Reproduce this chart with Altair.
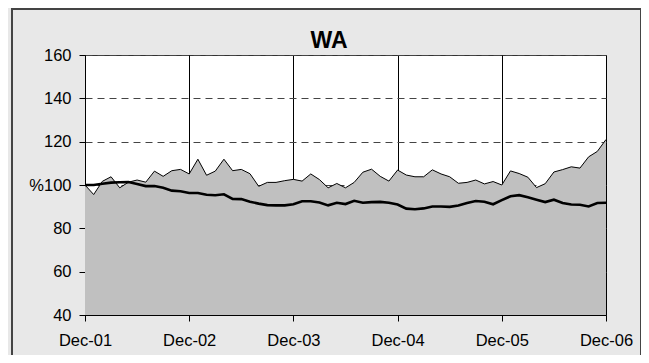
import altair as alt
import pandas as pd

# Monthly index, Dec-01 (=100) to Dec-06
chart_title = "WA"
tick_labels = ["Dec-01", "Dec-02", "Dec-03", "Dec-04", "Dec-05", "Dec-06"]

upper = [100.0, 95.6, 101.7, 103.8, 98.7, 101.3, 102.3, 101.3, 106.4, 104.0, 106.6, 107.2,
         105.1, 111.9, 104.5, 106.4, 111.9, 106.6, 107.2, 105.2, 99.4, 101.2, 101.2, 102.0,
         102.6, 101.8, 105.1, 102.5, 98.7, 100.7, 98.7, 101.2, 105.9, 107.3, 104.0, 101.8,
         106.9, 104.6, 103.8, 103.8, 107.0, 105.1, 103.8, 100.8, 101.2, 102.3, 100.5, 101.6,
         100.0, 106.5, 105.3, 103.6, 98.8, 100.6, 106.0, 107.1, 108.4, 107.8, 113.0, 115.5, 121.0]

lower = [100.0, 100.0, 100.6, 101.1, 101.3, 101.4, 100.5, 99.5, 99.5, 98.7, 97.4, 97.1,
         96.3, 96.3, 95.5, 95.3, 95.7, 93.6, 93.5, 92.3, 91.4, 90.7, 90.6, 90.6,
         91.1, 92.5, 92.5, 91.9, 90.6, 91.8, 91.2, 92.7, 91.8, 92.1, 92.2, 91.8,
         91.0, 89.1, 88.8, 89.2, 90.1, 90.1, 89.9, 90.5, 91.7, 92.6, 92.3, 91.1,
         93.0, 94.8, 95.3, 94.3, 93.2, 92.1, 93.2, 91.7, 91.0, 90.9, 90.1, 91.7, 91.8]

y_ticks = [40, 60, 80, 100, 120, 140, 160]

df = pd.DataFrame({"m": list(range(len(upper))), "upper": upper, "lower": lower})

label_arr = "[" + ",".join("'%s'" % t for t in tick_labels) + "]"

x_enc = alt.X(
    "m:Q",
    scale=alt.Scale(domain=[0, 60], nice=False, zero=False),
    axis=alt.Axis(
        values=[0, 12, 24, 36, 48, 60],
        labelExpr=label_arr + "[round(datum.value/12)]",
        title=None, labelFlush=False,
        grid=True, gridColor="black", gridWidth=1,
        tickSize=6, tickColor="black", domainColor="black",
        labelFontSize=16.5, labelColor="black", labelPadding=11,
        labelFont="Liberation Sans",
    ),
)

y_scale = alt.Scale(domain=[40, 160], nice=False, zero=False)

frame = alt.Chart(alt.Data(values=[{}])).mark_rect(
    fillOpacity=0, stroke="#444", strokeWidth=2
).encode(
    x=alt.value(-73), x2=alt.value(556), y=alt.value(-46), y2=alt.value(330)
)

title = alt.Chart(alt.Data(values=[{"t": chart_title}])).mark_text(
    font="Liberation Sans", fontSize=23, fontWeight="bold", color="black",
    align="center", baseline="alphabetic"
).encode(
    text="t:N", x=alt.value(244), y=alt.value(-7)
)

area = alt.Chart(df).mark_area(
    color="#c0c0c0", opacity=1,
    line=alt.OverlayMarkDef(color="black", strokeWidth=1),
).encode(
    x=x_enc,
    y=alt.Y(
        "upper:Q",
        scale=y_scale,
        axis=alt.Axis(
            values=y_ticks,
            labelExpr="datum.value == 100 ? '%100' : datum.label",
            title=None,
            grid=True, gridColor="#444", gridDash=[7, 5], gridWidth=1,
            tickSize=6, tickColor="black", domainColor="black",
            labelFontSize=16.5, labelColor="black", labelPadding=8,
            labelFont="Liberation Sans",
        ),
    ),
    y2=alt.datum(40),
)

line = alt.Chart(df).mark_line(color="black", strokeWidth=2.6).encode(
    x="m:Q",
    y=alt.Y("lower:Q", scale=y_scale),
)

chart = alt.layer(frame, area, line, title).properties(
    width=521,
    height=260,
    autosize=alt.AutoSizeParams(type="none"),
    padding={"left": 77, "top": 47, "right": 35, "bottom": 40},
    background="#e8e8e8",
).configure_view(
    stroke="#333", strokeWidth=1, fill="white"
)

chart.save("out.html", embed_options={"renderer": "svg", "actions": False})
